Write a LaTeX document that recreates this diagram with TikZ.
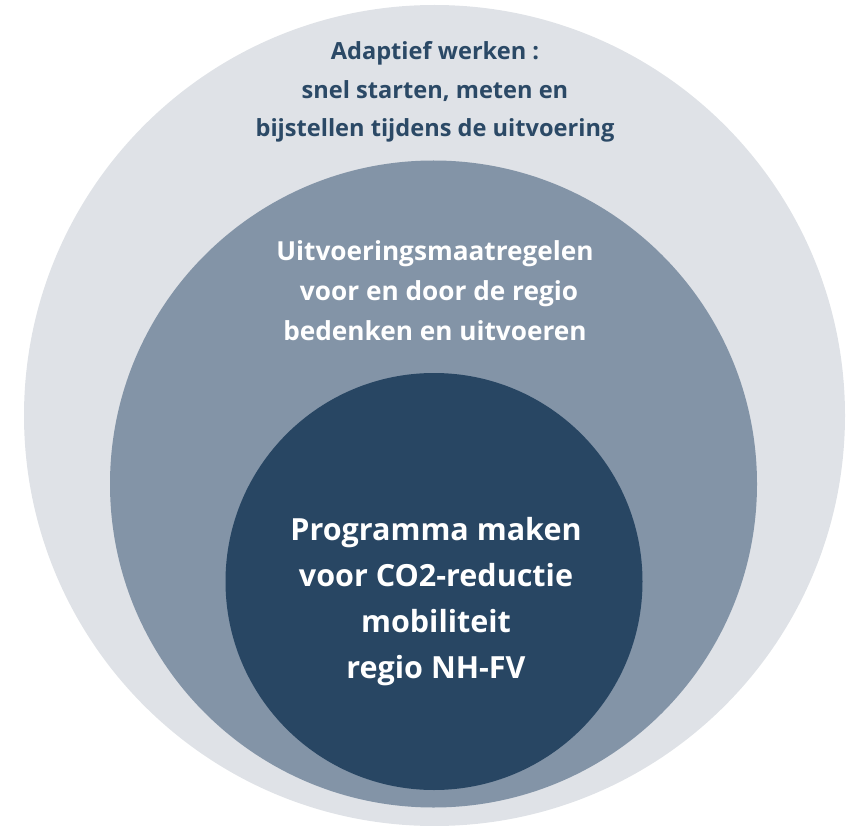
\documentclass[tikz,border=0pt]{standalone}
\usepackage{fontspec}
\setmainfont[Ligatures=NoCommon]{Open Sans}
\definecolor{outerc}{HTML}{DFE2E7}
\definecolor{midc}{HTML}{8394A7}
\definecolor{innerc}{HTML}{284663}
\definecolor{navytext}{HTML}{2B4966}
\tikzset{
  ring/.style={circle, inner sep=0pt, outer sep=0pt},
  outerlabel/.style={align=center, text=navytext, font=\bfseries\fontsize{23.6}{38.5}\selectfont},
  midlabel/.style={align=center, text=white, font=\bfseries\fontsize{26.2}{40}\selectfont},
  innerlabel/.style={align=center, text=white, font=\bfseries\fontsize{30.5}{46}\selectfont},
}
\begin{document}
\begin{tikzpicture}[x=1pt,y=-1pt]
\useasboundingbox (0,0) rectangle (851,826);
\node[ring, fill=outerc, minimum size=821pt] (outer) at (434.5,415.5) {};
\node[ring, fill=midc, minimum size=647pt] (mid) at (433.5,484) {};
\node[ring, fill=innerc, minimum size=417pt] (inner) at (434,581.5) {};
\node[outerlabel] (tout) at (435,92) {Adaptief werken :\\snel starten, meten en\\bijstellen tijdens de uitvoering};
\node[midlabel] (tmid) at (435,290.5) {Uitvoeringsmaatregelen\\\hspace*{8pt}voor en door de regio\\bedenken en uitvoeren};
\node[innerlabel] (tin) at (436,601.5) {Programma maken\\voor CO2-reductie\\mobiliteit\\regio NH-FV};
\end{tikzpicture}
\end{document}
